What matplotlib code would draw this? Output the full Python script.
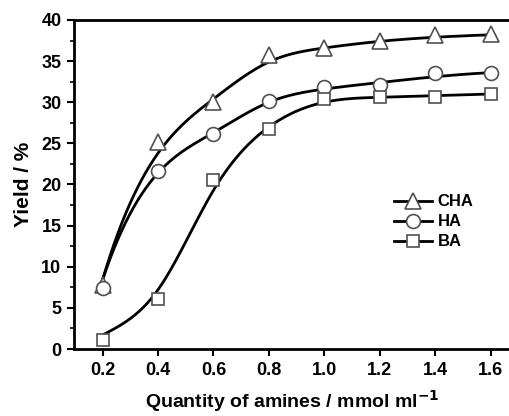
import numpy as np
import matplotlib
matplotlib.use("Agg")
from matplotlib import pyplot as plt
from matplotlib.ticker import MultipleLocator

plt.rcParams['font.family'] = ['Liberation Sans', 'DejaVu Sans']
plt.rcParams['font.weight'] = 'bold'
plt.rcParams['mathtext.default'] = 'bf'

# measured points
amine_qty = [0.2, 0.4, 0.6, 0.8, 1.0, 1.2, 1.4, 1.6]
cha_yield = [7.8, 25.2, 30.0, 35.7, 36.6, 37.5, 38.2, 38.3]
ha_yield = [7.4, 21.7, 26.1, 30.2, 31.9, 32.1, 33.5, 33.6]
ba_yield = [1.1, 6.1, 20.5, 26.8, 30.4, 30.6, 30.6, 31.0]

# fitted curves (same x as the points)
cha_fit = [8.4, 23.8, 30.4, 34.9, 36.6, 37.4, 37.9, 38.2]
ha_fit = [8.4, 21.4, 26.3, 30.0, 31.6, 32.4, 33.1, 33.6]
ba_fit = [1.7, 7.2, 19.3, 27.0, 30.0, 30.6, 30.8, 31.0]

labels = ['CHA', 'HA', 'BA']
markers = ['^', 'o', 's']
msizes = [11, 10, 9]
natural_ends = [False, False, True]


def smooth(x, y, natural=False, n=300):
    """Cubic spline through the read curve points."""
    x = np.asarray(x, float)
    y = np.asarray(y, float)
    k = len(x)
    h = np.diff(x)
    A = np.zeros((k, k))
    b = np.zeros(k)
    if natural:
        A[0, 0] = A[-1, -1] = 1
    else:
        # not-a-knot ends
        A[0, 0], A[0, 1], A[0, 2] = h[1], -(h[0] + h[1]), h[0]
        A[-1, -3], A[-1, -2], A[-1, -1] = h[-1], -(h[-2] + h[-1]), h[-2]
    for i in range(1, k - 1):
        A[i, i - 1] = h[i - 1]
        A[i, i] = 2 * (h[i - 1] + h[i])
        A[i, i + 1] = h[i]
        b[i] = 3 * ((y[i + 1] - y[i]) / h[i] - (y[i] - y[i - 1]) / h[i - 1])
    c = np.linalg.solve(A, b)
    bb = (y[1:] - y[:-1]) / h - h * (2 * c[:-1] + c[1:]) / 3
    d = (c[1:] - c[:-1]) / (3 * h)
    xs = np.linspace(x[0], x[-1], n)
    idx = np.clip(np.searchsorted(x, xs) - 1, 0, k - 2)
    t = xs - x[idx]
    ys = y[idx] + bb[idx] * t + c[idx] * t**2 + d[idx] * t**3
    return xs, ys


fig = plt.figure(figsize=(5.10, 4.16), dpi=100)
ax = fig.add_axes([0.145, 0.161, 0.855, 0.791])

for pts, fit, lab, mk, ms, nat in zip([cha_yield, ha_yield, ba_yield],
                                      [cha_fit, ha_fit, ba_fit], labels,
                                      markers, msizes, natural_ends):
    xs, ys = smooth(amine_qty, fit, nat)
    ax.plot(xs, ys, color='black', lw=2, zorder=2)
    ax.plot(amine_qty, pts, linestyle='none', marker=mk, ms=ms, mfc='white',
            mec='#505050', mew=1.2, zorder=3)
    # legend handle
    ax.plot([], [], color='black', lw=2, marker=mk, ms=ms, mfc='white',
            mec='#505050', mew=1.2, label=lab)

ax.set_xlim(0.097, 1.669)
ax.set_ylim(0, 40)
ax.yaxis.set_major_locator(MultipleLocator(5))
ax.yaxis.set_minor_locator(MultipleLocator(2.5))
ax.set_xticks(amine_qty)
ax.set_xticklabels(['%.1f' % v for v in amine_qty])

for s in ['left', 'bottom', 'top']:
    ax.spines[s].set_linewidth(2)
ax.spines['right'].set_visible(False)
ax.tick_params(axis='both', which='major', direction='out', length=5, width=1.5,
               labelsize=13, pad=4)
ax.tick_params(axis='y', which='minor', direction='out', length=3, width=1.2)
ax.tick_params(axis='x', which='both', top=False)

ax.set_xlabel('Quantity of amines / mmol ml$^{\\mathbf{-1}}$', fontsize=14,
              fontweight='bold', labelpad=7)
ax.set_ylabel('Yield / %', fontsize=15, fontweight='bold', labelpad=6)

leg = ax.legend(loc='upper left', bbox_to_anchor=(0.715, 0.495), frameon=False,
                fontsize=12, handlelength=2.3, handletextpad=0.3,
                labelspacing=0.3, borderpad=0)
for t in leg.get_texts():
    t.set_fontweight('bold')

fig.savefig('out.png', dpi=100)
